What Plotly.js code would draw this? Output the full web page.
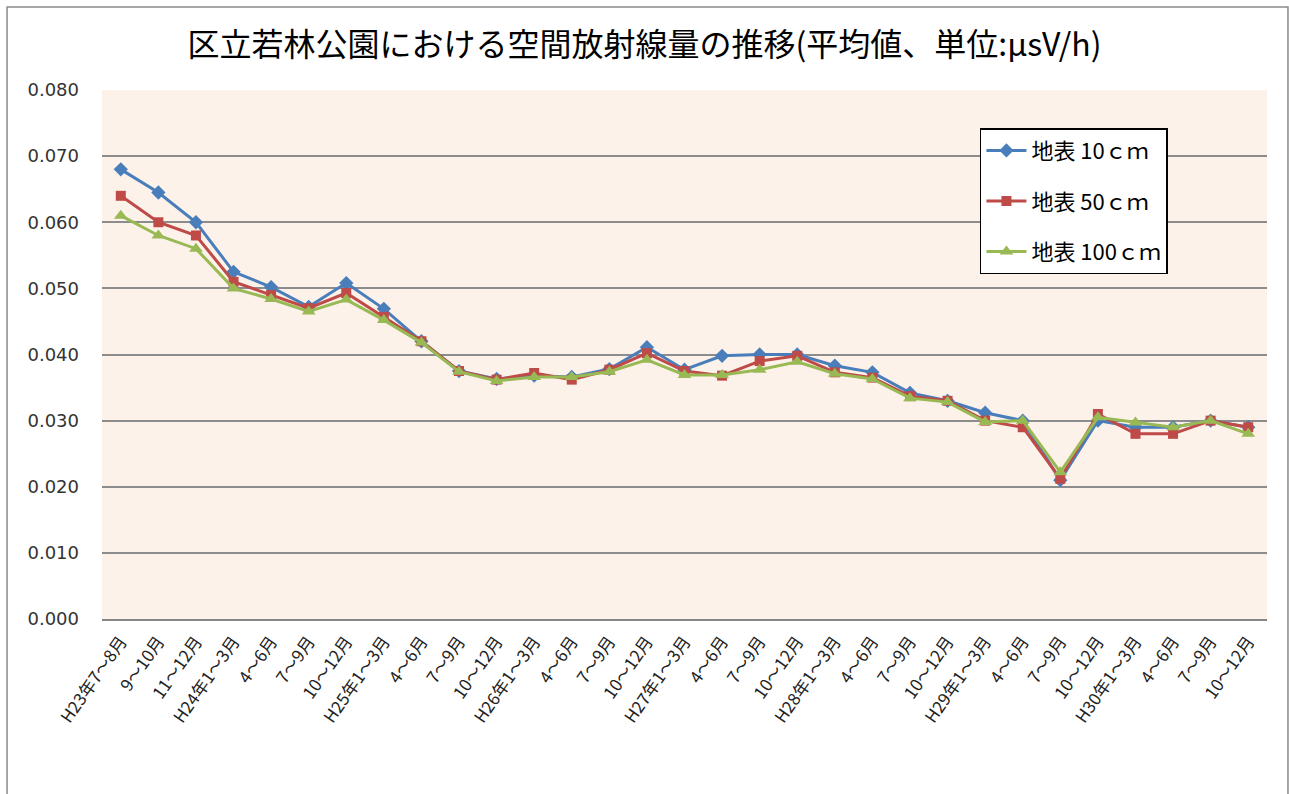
<!DOCTYPE html>
<html>
<head>
<meta charset="utf-8">
<script src="https://cdn.plot.ly/plotly-3.0.1.min.js"></script>
<style>
html,body{margin:0;padding:0;background:#fff;}
#chart{width:1289px;height:794px;}
</style>
</head>
<body>
<div id="chart"></div>
<script>
const categories = [
  "H23年7～8月","9～10月","11～12月",
  "H24年1～3月","4～6月","7～9月","10～12月",
  "H25年1～3月","4～6月","7～9月","10～12月",
  "H26年1～3月","4～6月","7～9月","10～12月",
  "H27年1～3月","4～6月","7～9月","10～12月",
  "H28年1～3月","4～6月","7～9月","10～12月",
  "H29年1～3月","4～6月","7～9月","10～12月",
  "H30年1～3月","4～6月","7～9月","10～12月"
];
const s10 = [0.068,0.0645,0.060,0.0525,0.0502,0.0472,0.0508,0.0469,0.042,0.0375,0.0363,0.0368,0.0366,0.0378,0.0411,0.0377,0.0398,0.040,0.040,0.0383,0.0373,0.0342,0.033,0.0312,0.030,0.021,0.030,0.029,0.029,0.030,0.029];
const s50 = [0.064,0.060,0.058,0.051,0.049,0.047,0.0493,0.0457,0.042,0.0375,0.0362,0.0372,0.0362,0.0377,0.0402,0.0375,0.0368,0.039,0.0398,0.0373,0.0365,0.0337,0.033,0.030,0.029,0.0212,0.031,0.028,0.028,0.030,0.029];
const s100 = [0.061,0.058,0.056,0.050,0.0484,0.0465,0.0483,0.0452,0.0418,0.0374,0.036,0.0366,0.0366,0.0374,0.0392,0.0369,0.0369,0.0377,0.0389,0.0371,0.0363,0.0334,0.0328,0.0298,0.030,0.0222,0.0305,0.0297,0.029,0.030,0.028];
const seriesNames = ["地表 10ｃｍ","地表 50ｃｍ","地表 100ｃｍ"];
const yTicks = [0,0.01,0.02,0.03,0.04,0.05,0.06,0.07,0.08];

const colors = ["#4A7EBB","#BE4B48","#98B954"];
const symbols = ["diamond","square","triangle-up"];
const sizes = [11,10,12];
const data = [s10,s50,s100].map((vals,i)=>({
  type:"scatter", mode:"lines+markers",
  x: categories.map((c,j)=>j), y: vals,
  name: seriesNames[i], legendgroup: "g"+i,
  line:{color:colors[i], width:3},
  marker:{symbol:symbols[i], size: sizes[i], color:colors[i]}
}));

const layout = {
  width:1289, height:794,
  margin:{l:102, r:22, t:90, b:175},
  paper_bgcolor:"#ffffff",
  plot_bgcolor:"#FDF2EA",
  title:{text:"区立若林公園における空間放射線量の推移(平均値、単位:μsV/h)",
    font:{family:"Noto Sans CJK JP", size:32, color:"#000"},
    x:0.5, xanchor:"center", y:0.943, yanchor:"middle"},
  xaxis:{
    tickmode:"array", tickvals: categories.map((c,j)=>j), ticktext: categories,
    range:[-0.5, categories.length-0.5],
    tickangle:-55, showgrid:false, zeroline:false,
    showline:true, linecolor:"#868686", linewidth:1.5,
    ticks:"", ticklabelstandoff:4,
    tickfont:{family:"Noto Sans CJK JP", size:17, color:"#222"}
  },
  yaxis:{
    range:[0,0.08], tickmode:"array", tickvals:yTicks,
    ticktext: yTicks.map(v=>v.toFixed(3)),
    showgrid:true, gridcolor:"#8C8C8C", gridwidth:1.5,
    zeroline:false, showline:false, ticks:"", ticklabelstandoff:22,
    tickfont:{family:"DejaVu Sans", size:18, color:"#333"}
  },
  legend:{
    x:0.7536, y:0.928, xanchor:"left", yanchor:"top",
    bgcolor:"#ffffff", bordercolor:"#000", borderwidth:1.5,
    font:{family:"Noto Sans CJK JP", size:22, color:"#000"},
    traceorder:"grouped", tracegroupgap:19, itemwidth:40
  },
  shapes:[{type:"rect", xref:"paper", yref:"paper",
    x0:-0.0815, x1:1.018, y0:-0.35, y1:1.157,
    line:{color:"#8a8a8a", width:1.5}, fillcolor:"rgba(0,0,0,0)", layer:"below"}],
  showlegend:true
};
Plotly.newPlot("chart", data, layout, {displayModeBar:false, responsive:false});
</script>
</body>
</html>
